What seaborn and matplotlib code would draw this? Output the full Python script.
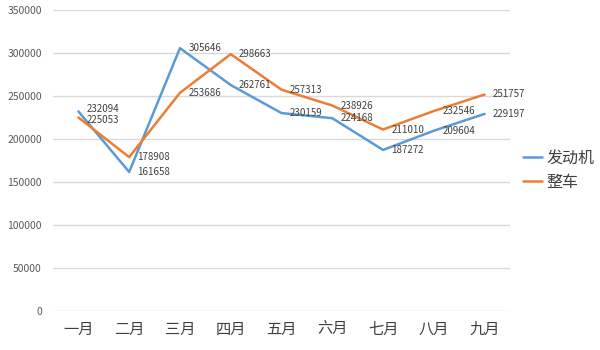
import matplotlib
matplotlib.use("Agg")
import matplotlib.pyplot as plt
import seaborn as sns
import pandas as pd
from matplotlib.lines import Line2D

months = ["一月", "二月", "三月", "四月", "五月", "六月", "七月", "八月", "九月"]
engine = [232094, 161658, 305646, 262761, 230159, 224168, 187272, 209604, 229197]
vehicle = [225053, 178908, 253686, 298663, 257313, 238926, 211010, 232546, 251757]
series_names = ["发动机", "整车"]
yticks = [0, 50000, 100000, 150000, 200000, 250000, 300000, 350000]

sns.set_style("white")
plt.rcParams['font.family'] = ['Noto Sans CJK SC', 'DejaVu Sans']

df = pd.DataFrame({
    "month": months * 2,
    "x": list(range(len(months))) * 2,
    "value": engine + vehicle,
    "series": [series_names[0]] * len(months) + [series_names[1]] * len(months),
})

colors = {"发动机": "#5B9BD5", "整车": "#ED7D31"}

fig = plt.figure(figsize=(6, 3.5), dpi=100)
ax = fig.add_axes([53/600, 1 - 311/350, (510 - 53)/600, (311 - 10)/350])

sns.lineplot(data=df, x="x", y="value", hue="series", palette=colors, ax=ax,
             linewidth=1.8, legend=False, sort=False)

for k, vals in enumerate([engine, vehicle]):
    other = [vehicle, engine][k]
    for i, v in enumerate(vals):
        dy = 0
        if abs(v - other[i]) < 9000:
            dy = 1.6 if v > other[i] else -1.6
        ax.annotate(str(v), (i, v), xytext=(6, dy), textcoords="offset points",
                    ha="left", va="center", fontsize=7, color="#404040")

ax.set_xlim(-0.5, len(months) - 0.5)
ax.set_ylim(0, 350000)
ax.set_yticks(yticks)
ax.set_yticklabels([str(t) for t in yticks], fontsize=7.5, color="#595959")
ax.set_xticks(range(len(months)))
ax.set_xticklabels(months, fontsize=11, color="#404040")
ax.tick_params(axis="both", length=0)
ax.tick_params(axis="y", pad=8)
ax.tick_params(axis="x", pad=7)
ax.grid(axis="y", color="#D9D9D9", linewidth=1)
ax.set_axisbelow(True)
for sp in ax.spines.values():
    sp.set_visible(False)
ax.set_xlabel("")
ax.set_ylabel("")

handles = [Line2D([0], [0], color=colors[s], lw=1.8) for s in series_names]
fig.legend(handles, series_names, loc="center left", bbox_to_anchor=(523/600, 1 - 170/350),
           frameon=False, fontsize=11.5, handlelength=1.2, handletextpad=0.25,
           labelspacing=0.45, borderpad=0, borderaxespad=0, labelcolor="#404040")

fig.savefig("out.png", dpi=100)
